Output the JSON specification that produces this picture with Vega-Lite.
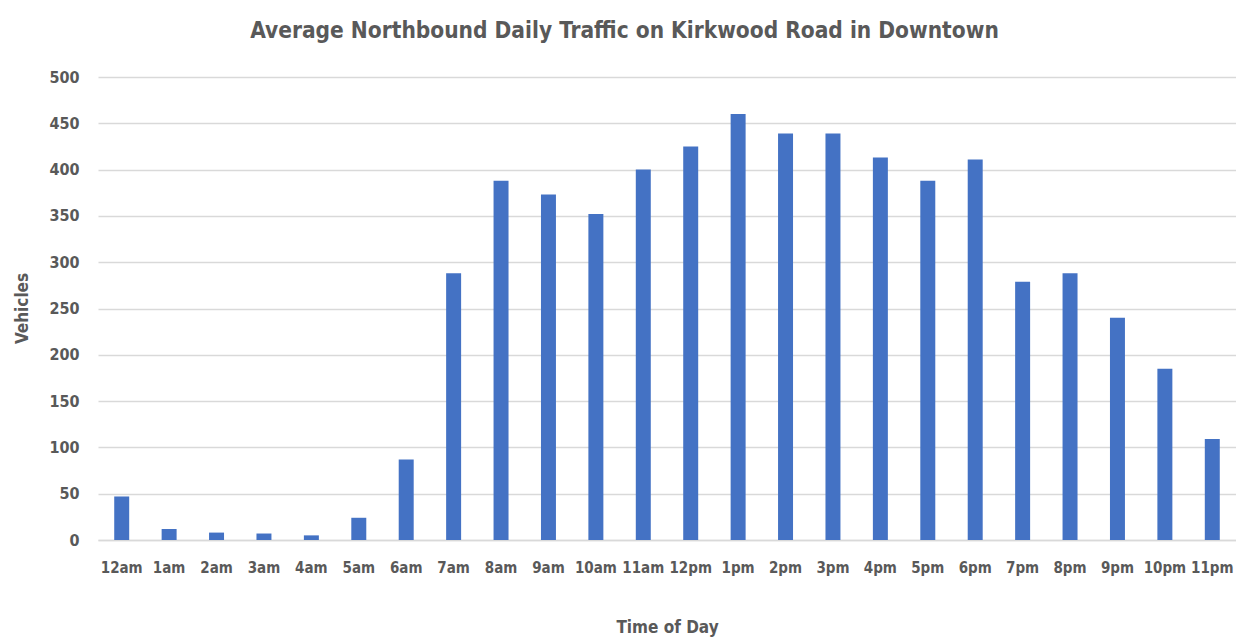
{
  "$schema": "https://vega.github.io/schema/vega-lite/v6.json",
  "autosize": {"type": "none"},
  "padding": {"left": 98, "top": 77, "right": 0, "bottom": 101},
  "width": 1138,
  "height": 463,
  "background": "#ffffff",
  "title": {
    "text": "Average Northbound Daily Traffic on Kirkwood Road in Downtown",
    "font": "DejaVu Sans Condensed, sans-serif",
    "fontSize": 22.5,
    "fontWeight": "bold",
    "color": "#595959",
    "anchor": "middle",
    "frame": "bounds",
    "baseline": "alphabetic",
    "offset": 9
  },
  "data": {
    "values": [
      {"hour": "12am", "vehicles": 47},
      {"hour": "1am", "vehicles": 12},
      {"hour": "2am", "vehicles": 8},
      {"hour": "3am", "vehicles": 7},
      {"hour": "4am", "vehicles": 5},
      {"hour": "5am", "vehicles": 24},
      {"hour": "6am", "vehicles": 87},
      {"hour": "7am", "vehicles": 288},
      {"hour": "8am", "vehicles": 388},
      {"hour": "9am", "vehicles": 373},
      {"hour": "10am", "vehicles": 352},
      {"hour": "11am", "vehicles": 400},
      {"hour": "12pm", "vehicles": 425},
      {"hour": "1pm", "vehicles": 460},
      {"hour": "2pm", "vehicles": 439},
      {"hour": "3pm", "vehicles": 439},
      {"hour": "4pm", "vehicles": 413},
      {"hour": "5pm", "vehicles": 388},
      {"hour": "6pm", "vehicles": 411},
      {"hour": "7pm", "vehicles": 279},
      {"hour": "8pm", "vehicles": 288},
      {"hour": "9pm", "vehicles": 240},
      {"hour": "10pm", "vehicles": 185},
      {"hour": "11pm", "vehicles": 109}
    ]
  },
  "mark": {"type": "bar", "color": "#4472C4"},
  "encoding": {
    "x": {
      "field": "hour",
      "type": "nominal",
      "sort": null,
      "scale": {"paddingInner": 0.684, "paddingOuter": 0.342},
      "axis": {
        "title": "Time of Day",
        "labelAngle": 0,
        "labelFont": "DejaVu Sans Condensed, sans-serif",
        "labelFontSize": 15,
        "labelFontWeight": "bold",
        "labelColor": "#595959",
        "labelPadding": 20,
        "ticks": false,
        "domain": true,
        "domainColor": "#d9d9d9",
        "domainWidth": 1.5,
        "titleFont": "DejaVu Sans Condensed, sans-serif",
        "titleFontSize": 17,
        "titleFontWeight": "bold",
        "titleColor": "#595959",
        "titleBaseline": "middle",
        "titleY": 87
      }
    },
    "y": {
      "field": "vehicles",
      "type": "quantitative",
      "scale": {"domain": [0, 500], "nice": false},
      "axis": {
        "title": "Vehicles",
        "values": [0, 50, 100, 150, 200, 250, 300, 350, 400, 450, 500],
        "grid": true,
        "gridColor": "#d9d9d9",
        "gridWidth": 1.5,
        "domain": false,
        "ticks": false,
        "labelFont": "DejaVu Sans Condensed, sans-serif",
        "labelFontSize": 16,
        "labelFontWeight": "bold",
        "labelColor": "#595959",
        "labelPadding": 19,
        "titleFont": "DejaVu Sans Condensed, sans-serif",
        "titleFontSize": 17,
        "titleFontWeight": "bold",
        "titleColor": "#595959",
        "titleAngle": 270,
        "titleAlign": "center",
        "titleBaseline": "middle",
        "titleX": -76,
        "titleY": 231
      }
    }
  },
  "config": {"view": {"stroke": null}}
}
